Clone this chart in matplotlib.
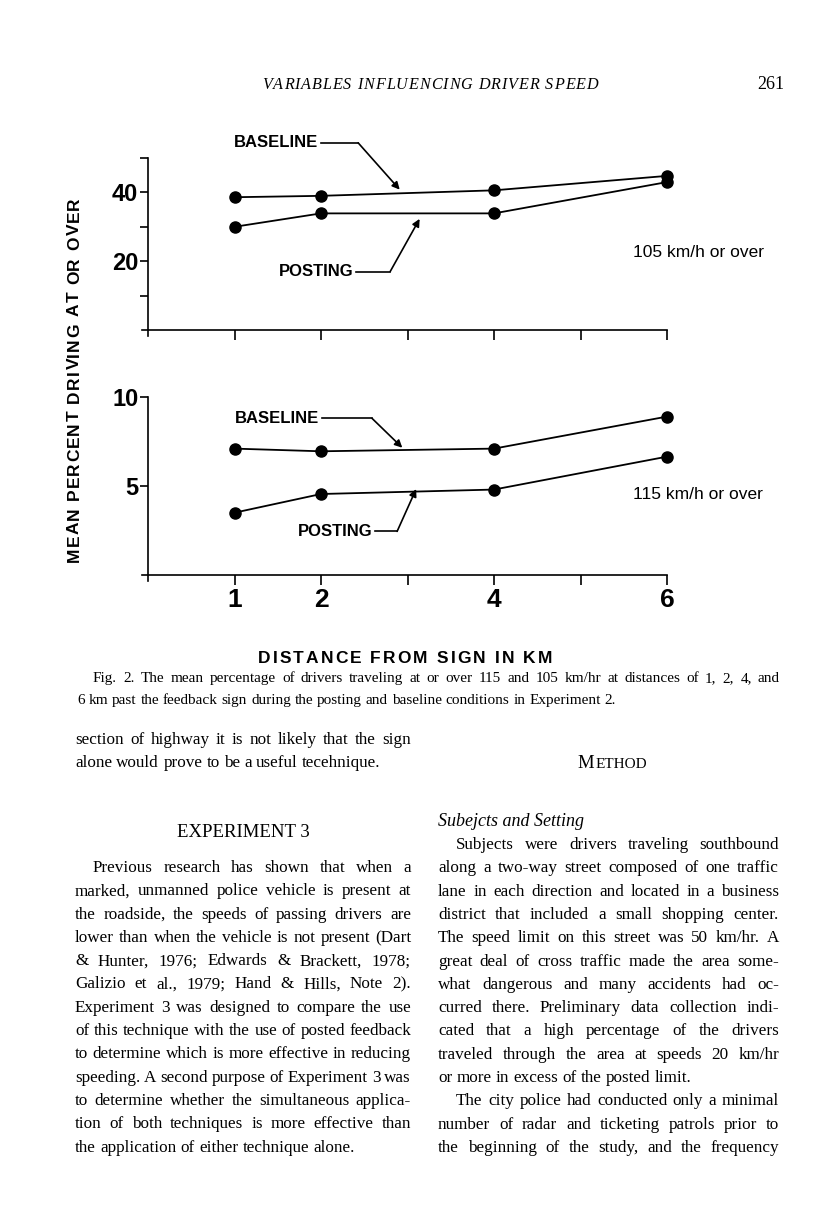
import matplotlib
matplotlib.use('Agg')
import matplotlib.pyplot as plt
from matplotlib.font_manager import FontProperties

W, H, DPI = 816, 1205, 100

# chart data
dist = [1, 2, 4, 6]
base_105 = [38.6, 39.0, 40.6, 44.8]
post_105 = [30.0, 33.9, 33.9, 43.0]
base_115 = [7.1, 6.95, 7.1, 8.9]
post_115 = [3.5, 4.55, 4.8, 6.65]

x_ticks = [1, 2, 3, 4, 5, 6]
x_labels = ['1', '2', '', '4', '', '6']
top_yticks = [10, 20, 30, 40, 50]
top_ylabels = ['', '20', '', '40', '']
bot_yticks = [5, 10]
bot_ylabels = ['5', '10']

header = 'VARIABLES INFLUENCING DRIVER SPEED'
page_no = '261'
ylabel = 'MEAN PERCENT DRIVING AT OR OVER'
xlabel = 'DISTANCE FROM SIGN IN KM'
caption = [
    'Fig. 2. The mean percentage of drivers traveling at or over 115 and 105 km/hr at distances of 1, 2, 4, and',
    '6 km past the feedback sign during the posting and baseline conditions in Experiment 2.',
]
left_top = [
    'section of highway it is not likely that the sign',
    'alone would prove to be a useful tecehnique.',
]
left_body = [
    'Previous research has shown that when a',
    'marked, unmanned police vehicle is present at',
    'the roadside, the speeds of passing drivers are',
    'lower than when the vehicle is not present (Dart',
    '& Hunter, 1976; Edwards & Brackett, 1978;',
    'Galizio et al., 1979; Hand & Hills, Note 2).',
    'Experiment 3 was designed to compare the use',
    'of this technique with the use of posted feedback',
    'to determine which is more effective in reducing',
    'speeding. A second purpose of Experiment 3 was',
    'to determine whether the simultaneous applica-',
    'tion of both techniques is more effective than',
    'the application of either technique alone.',
]
right_body = [
    'Subjects were drivers traveling southbound',
    'along a two-way street composed of one traffic',
    'lane in each direction and located in a business',
    'district that included a small shopping center.',
    'The speed limit on this street was 50 km/hr. A',
    'great deal of cross traffic made the area some-',
    'what dangerous and many accidents had oc-',
    'curred there. Preliminary data collection indi-',
    'cated that a high percentage of the drivers',
    'traveled through the area at speeds 20 km/hr',
    'or more in excess of the posted limit.',
    'The city police had conducted only a minimal',
    'number of radar and ticketing patrols prior to',
    'the beginning of the study, and the frequency',
]

fig = plt.figure(figsize=(W / DPI, H / DPI), dpi=DPI)
fig.patch.set_facecolor('white')
renderer = fig.canvas.get_renderer()

serif = FontProperties(family='Liberation Serif', size=12.3)
serif_it = FontProperties(family='Liberation Serif', style='italic', size=13)
cap_fp = FontProperties(family='Liberation Serif', size=11)
sans_b = FontProperties(family='Liberation Sans', weight='bold', size=12)
sans_lab = FontProperties(family='Liberation Sans', weight='bold', size=12.5)
sans_r = FontProperties(family='Liberation Sans', size=12.5)


def fx(x):
    return x / W


def fy(y):
    return 1 - y / H


def width(s, fp):
    w, h, d = renderer.get_text_width_height_descent(s, fp, ismath=False)
    return w


def space(fp):
    return width('a a', fp) - width('aa', fp)


def tracked(p0, p1, q, s, fp, vertical=False):
    # spread the characters of s so the string runs from p0 to p1 (pixels)
    sp = space(fp)
    ws = [sp if c == ' ' else width(c, fp) for c in s]
    track = (abs(p1 - p0) - sum(ws)) / (len(s) - 1)
    pos = p0
    for c, w in zip(s, ws):
        if c != ' ':
            if vertical:
                fig.text(fx(q), fy(pos), c, fontproperties=fp, rotation=90,
                         rotation_mode='anchor', ha='left', va='baseline')
            else:
                fig.text(fx(pos), fy(q), c, fontproperties=fp,
                         ha='left', va='baseline')
        pos = pos - (w + track) if vertical else pos + w + track


def justify(x0, x1, y, line, fp, full=True):
    words = line.split(' ')
    ws = [width(w, fp) for w in words]
    gap = (x1 - x0 - sum(ws)) / (len(words) - 1) if full and len(words) > 1 else space(fp)
    x = x0
    for w, wd in zip(words, ws):
        fig.text(fx(x), fy(y), w, fontproperties=fp, ha='left', va='baseline')
        x += wd + gap


def make_axes(y0, ytop, ymax, yticks, ylabels, xlabels):
    ax = fig.add_axes([fx(148), fy(y0), 519 / W, (y0 - ytop) / H])
    ax.set_xlim(0, 6)
    ax.set_ylim(0, ymax)
    ax.patch.set_visible(False)
    ax.spines['top'].set_visible(False)
    ax.spines['right'].set_visible(False)
    for s in ['left', 'bottom']:
        ax.spines[s].set_linewidth(1.2)
    ax.spines['left'].set_bounds(-ymax * 0.035, ymax)
    ax.spines['bottom'].set_bounds(-0.07, 6)
    ax.set_xticks(x_ticks)
    ax.set_xticklabels(xlabels, fontfamily='Liberation Sans', fontweight='bold', fontsize=19)
    ax.set_yticks(yticks)
    ax.set_yticklabels(ylabels, fontfamily='Liberation Sans', fontweight='bold', fontsize=17)
    ax.tick_params(axis='x', direction='out', length=7, width=1.2, pad=2)
    ax.tick_params(axis='y', direction='out', length=6, width=1.2, pad=1)
    return ax


def pointer(ax, label, x_end, y, x_line, tip):
    ax.text(x_end, y, label, fontproperties=sans_b, ha='right', va='center', clip_on=False)
    ax.plot([x_end + 0.03, x_line], [y, y], color='k', lw=1.2, clip_on=False)
    ax.annotate('', xy=tip, xytext=(x_line, y), annotation_clip=False,
                arrowprops=dict(arrowstyle='-|>', color='k', lw=1.2,
                                mutation_scale=11, shrinkA=0, shrinkB=0))


mk = dict(color='k', lw=1.3, marker='o', ms=8, clip_on=False)

# 105 km/h panel
ax1 = make_axes(330, 158, 50, top_yticks, top_ylabels, [''] * 6)
ax1.plot(dist, base_105, **mk)
ax1.plot(dist, post_105, **mk)
pointer(ax1, 'BASELINE', 1.97, 54.4, 2.43, (2.91, 40.8))
pointer(ax1, 'POSTING', 2.38, 17.0, 2.80, (3.14, 32.3))
ax1.text(5.61, 22.4, '105 km/h or over', fontproperties=sans_r, ha='left', va='center', clip_on=False)

# 115 km/h panel
ax2 = make_axes(575, 397, 10, bot_yticks, bot_ylabels, x_labels)
ax2.plot(dist, base_115, **mk)
ax2.plot(dist, post_115, **mk)
pointer(ax2, 'BASELINE', 1.98, 8.8, 2.59, (2.94, 7.15))
pointer(ax2, 'POSTING', 2.59, 2.45, 2.88, (3.10, 4.83))
ax2.text(5.61, 4.55, '115 km/h or over', fontproperties=sans_r, ha='left', va='center', clip_on=False)

# shared axis titles
tracked(562, 197, 79, ylabel, sans_lab, vertical=True)
tracked(258, 552, 663, xlabel, sans_lab)

# running head
tracked(262, 598, 89, header, FontProperties(family='Liberation Serif', style='italic', size=11.6))
fig.text(fx(784), fy(89), page_no, fontproperties=FontProperties(family='Liberation Serif', size=13),
         ha='right', va='baseline')

# caption
justify(93, 780, 682, caption[0], cap_fp)
justify(77, 780, 704, caption[1], cap_fp, full=False)

# left column
lx0, lx1 = 75, 411
justify(lx0, lx1, 744, left_top[0], serif)
justify(lx0, lx1, 767, left_top[1], serif, full=False)
fig.text(fx((lx0 + lx1) / 2), fy(837), 'EXPERIMENT 3',
         fontproperties=FontProperties(family='Liberation Serif', size=13.5),
         ha='center', va='baseline')
for i, line in enumerate(left_body):
    y = 872 + i * 23.3
    x0 = lx0 + 18 if i == 0 else lx0
    justify(x0, lx1, y, line, serif, full=(i != len(left_body) - 1))

# right column
rx0, rx1 = 438, 779
m_fp = FontProperties(family='Liberation Serif', size=13.5)
fig.text(fx(577), fy(768), 'M', fontproperties=m_fp, ha='left', va='baseline')
fig.text(fx(577 + width('M', m_fp) + 1.5), fy(768), 'ETHOD',
         fontproperties=FontProperties(family='Liberation Serif', size=11),
         ha='left', va='baseline')
fig.text(fx(rx0), fy(826), 'Subejcts and Setting', fontproperties=serif_it, ha='left', va='baseline')
for i, line in enumerate(right_body):
    y = 849 + i * 23.3
    x0 = rx0 + 18 if i in (0, 11) else rx0
    justify(x0, rx1, y, line, serif, full=(i != 10))

fig.savefig('out.png', dpi=DPI)
